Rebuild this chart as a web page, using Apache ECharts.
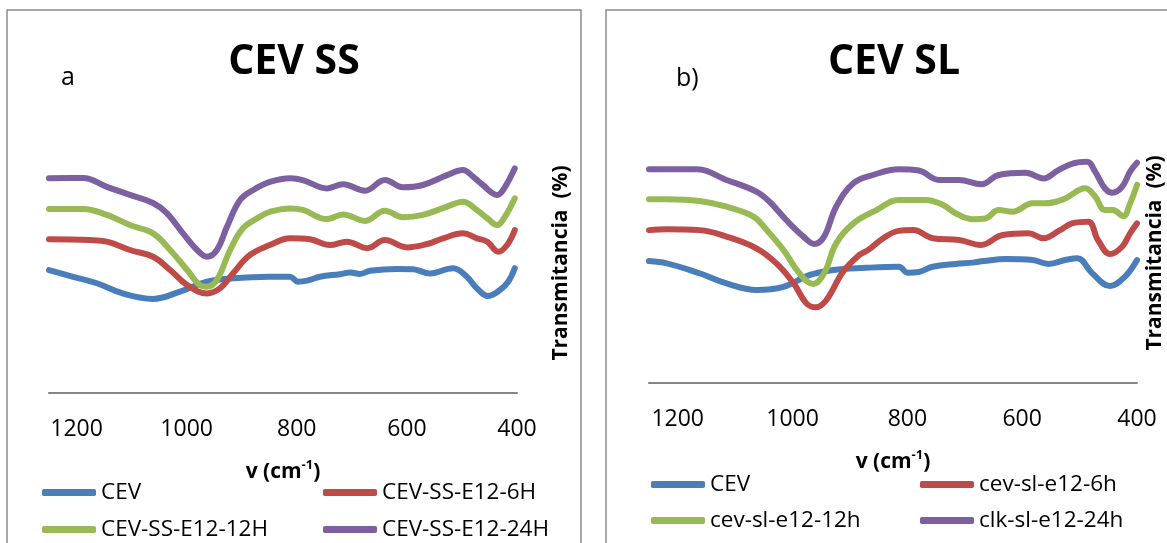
<!DOCTYPE html>
<html>
<head>
<meta charset="utf-8">
<script src="https://cdn.jsdelivr.net/npm/echarts@6/dist/echarts.min.js"></script>
<style>
  html, body { margin: 0; padding: 0; background: #fff; }
  #chart { width: 1167px; height: 543px; }
</style>
</head>
<body>
<div id="chart"></div>
<script>
// FTIR spectra, wavenumber (cm-1) vs transmitance (arbitrary %)
var tickLabels = [1200, 1000, 800, 600, 400];

// panel a) CEV SS
var namesA = ['CEV', 'CEV-SS-E12-6H', 'CEV-SS-E12-12H', 'CEV-SS-E12-24H'];
var cevA = [[1250,47.3],[1206,44.7],[1163,42.2],[1116,38.3],[1061,36.2],[1012,39],[963,42.8],[916,44.1],[849,44.7],[812,44.7],[798,42.8],[781,43.2],[758,44.7],[721,45.7],[703,46.3],[685,45.8],[667,47],[618,47.7],[589,47.6],[558,46],[516,48],[491,44.7],[473,40.3],[453,37.3],[431,39.6],[416,42.8],[404,48]];
var ss6h = [[1250,59.1],[1176,58.8],[1145,58.2],[1103,55],[1061,52.4],[1030,47.3],[999,41.5],[963,38.3],[939,40.3],[916,46],[885,53.1],[849,56.9],[812,59.5],[776,59.1],[740,56.9],[709,58.2],[672,55.7],[640,58.8],[600,56],[563,57.3],[534,59.5],[498,61.4],[473,59.5],[454,58.2],[434,54.3],[418,56.9],[404,62.7]];
var ss12h = [[1250,70.8],[1188,70.8],[1145,68.5],[1103,64.6],[1061,61.4],[1030,55],[999,47.3],[976,41.5],[963,40.9],[945,43.5],[921,55],[898,63.3],[867,67.8],[849,69.7],[812,71],[789,70.4],[745,66.9],[716,68.7],[676,66.2],[640,70.1],[607,67.6],[571,68.5],[527,71.7],[498,73.6],[473,70.4],[454,67.2],[436,64.6],[422,67.8],[404,74.9]];
var ss24h = [[1250,82.6],[1188,82.7],[1145,79.3],[1103,76.2],[1061,73.1],[1036,69.2],[1007,61.5],[981,55],[963,52.4],[945,55],[927,63.8],[903,74.2],[879,78.1],[849,81.2],[812,82.6],[789,81.9],[745,78.7],[716,80.3],[676,77.8],[640,81.9],[607,79.1],[571,80],[527,83.8],[498,85.8],[480,83.2],[462,80],[436,76.2],[425,78.1],[404,86.4]];

// panel b) CEV SL
var namesB = ['CEV', 'cev-sl-e12-6h', 'cev-sl-e12-12h', 'clk-sl-e12-24h'];
var cevB = [[1250,46.9],[1219,46],[1162,42.2],[1115,38.3],[1063,35.8],[1016,37],[971,41.5],[929,43.5],[872,44.3],[815,44.7],[799,42.4],[780,42.7],[756,44.7],[716,45.8],[686,46.3],[667,46.9],[629,47.7],[582,47.3],[554,45.8],[525,47.3],[504,48],[478,42.2],[447,37.3],[421,40.9],[400,47.3]];
var sl6h = [[1250,58.8],[1219,59.1],[1162,58.8],[1115,56.3],[1063,51.8],[1028,46],[998,38.3],[976,30.7],[959,29.1],[941,31.9],[912,42.8],[884,49.2],[868,51.2],[842,55.7],[815,58.5],[790,58.8],[756,55.7],[710,55],[672,53.1],[634,56.9],[589,57.6],[563,55.7],[534,58.8],[513,61.4],[485,62],[468,55],[447,49.6],[426,52.4],[412,57.6],[400,61.4]];
var sl12h = [[1250,70.7],[1219,70.7],[1162,70],[1115,67.8],[1068,64],[1045,58.8],[1016,51.2],[988,42.2],[964,38.1],[945,42.2],[924,53.7],[894,61.4],[854,66.5],[815,70.4],[768,70.4],[738,68.5],[716,65.3],[686,63],[664,63.3],[641,66.5],[617,65.9],[582,69.1],[560,69.1],[528,70.7],[490,74.9],[473,71.7],[456,66.5],[442,66.5],[424,64.2],[412,69.1],[400,76.2]];
var sl24h = [[1250,82.2],[1167,82.2],[1115,78.1],[1063,73.6],[1040,69.7],[1011,62.7],[981,56.3],[962,53.5],[945,56.3],[924,67.8],[894,76.8],[860,80],[815,82.2],[780,81.7],[745,78.1],[710,78.1],[671,76.4],[641,80],[594,80.9],[563,78.7],[537,81.9],[511,84.5],[487,85.1],[473,81.3],[456,74.9],[443,73.2],[426,75.5],[412,81.3],[400,84.7]];

var colors = ['#4A7EBB', '#BE4B48', '#98B954', '#7D60A0'];
var ff = '"Open Sans", sans-serif';

var chart = echarts.init(document.getElementById('chart'));

function line(name, data, color, idx) {
  return {
    name: name,
    type: 'line',
    xAxisIndex: idx,
    yAxisIndex: idx,
    data: data,
    symbol: 'none',
    smooth: 0.4,
    lineStyle: { width: 6, color: color, cap: 'round', join: 'round' },
    itemStyle: { color: color }
  };
}

function xAx(idx) {
  return {
    gridIndex: idx,
    type: 'value',
    inverse: true,
    min: 400,
    max: 1250,
    axisLine: { show: true, onZero: false, lineStyle: { color: '#868686', width: 2 } },
    axisTick: { show: false },
    splitLine: { show: false },
    axisLabel: {
      customValues: tickLabels,
      formatter: function (v) { return String(v); },
      fontSize: 23, color: '#000', fontFamily: ff, margin: 25
    },
    name: '{b|v (cm}{s|-1}{b|)}',
    nameLocation: 'middle',
    nameGap: 66,
    nameTextStyle: {
      rich: {
        b: { fontSize: 21, fontWeight: 'bold', fontFamily: ff, color: '#000', lineHeight: 26 },
        s: { fontSize: 13, fontWeight: 'bold', fontFamily: ff, color: '#000', verticalAlign: 'top', lineHeight: 14 }
      }
    }
  };
}

function yAx(idx, gap) {
  return {
    gridIndex: idx,
    type: 'value',
    min: 0,
    max: 100,
    position: 'right',
    axisLine: { show: false },
    axisTick: { show: false },
    axisLabel: { show: false },
    splitLine: { show: false },
    name: 'Transmitancia  (%)',
    nameLocation: 'middle',
    nameRotate: 90,
    nameGap: gap,
    nameTextStyle: { fontSize: 21, fontWeight: 'bold', color: '#000', fontFamily: ff }
  };
}

function leg(name, left, top) {
  return {
    data: [name],
    left: left,
    top: top,
    padding: 0,
    icon: 'roundRect',
    itemWidth: 54,
    itemHeight: 7,
    selectedMode: false,
    textStyle: { fontSize: 22.5, color: '#000', fontFamily: ff }
  };
}

function txt(s, x, y, size, weight, align) {
  return {
    type: 'text',
    x: x,
    y: y,
    style: {
      text: s, fill: '#000', fontSize: size, fontWeight: weight, fontFamily: ff,
      align: align, textAlign: align, verticalAlign: 'middle', textVerticalAlign: 'middle'
    }
  };
}

var option = {
  backgroundColor: '#fff',
  animation: false,
  grid: [
    { left: 49, top: 133, width: 468, height: 260 },
    { left: 649, top: 123, width: 490, height: 260 }
  ],
  xAxis: [xAx(0), xAx(1)],
  yAxis: [yAx(0, 34), yAx(1, 8)],
  legend: [
    leg(namesA[0], 42, 481), leg(namesA[1], 323, 481),
    leg(namesA[2], 42, 518), leg(namesA[3], 323, 518),
    leg(namesB[0], 651, 473), leg(namesB[1], 920, 473),
    leg(namesB[2], 651, 509), leg(namesB[3], 920, 509)
  ],
  graphic: [
    { type: 'rect', shape: { x: 7, y: 10, width: 574, height: 560 }, style: { fill: 'none', stroke: '#8c8c8c', lineWidth: 1.5 } },
    { type: 'rect', shape: { x: 606, y: 10, width: 600, height: 560 }, style: { fill: 'none', stroke: '#8c8c8c', lineWidth: 1.5 } },
    txt('CEV SS', 294, 62, 41, 'bold', 'center'),
    txt('CEV SL', 894, 62, 41, 'bold', 'center'),
    txt('a', 61, 78, 25, 'normal', 'left'),
    txt('b)', 676, 79, 25, 'normal', 'left')
  ],
  series: [
    line(namesA[0], cevA, colors[0], 0),
    line(namesA[1], ss6h, colors[1], 0),
    line(namesA[2], ss12h, colors[2], 0),
    line(namesA[3], ss24h, colors[3], 0),
    line(namesB[0], cevB, colors[0], 1),
    line(namesB[1], sl6h, colors[1], 1),
    line(namesB[2], sl12h, colors[2], 1),
    line(namesB[3], sl24h, colors[3], 1)
  ]
};

chart.setOption(option);
</script>
</body>
</html>
